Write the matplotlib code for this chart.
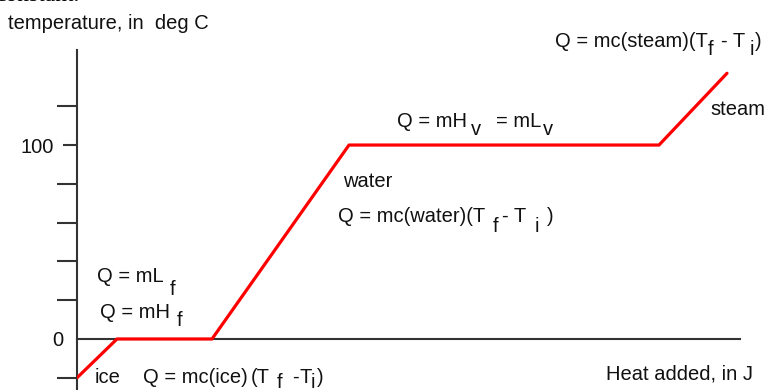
import matplotlib
matplotlib.use("Agg")
import matplotlib.pyplot as plt
import matplotlib.transforms as mtrans

W, H = 770, 390
FS = 14.5
TXT = "#111111"
AXIS = "#333333"
RED = "#ff0000"
plt.rc("font", family="Liberation Sans")

# heating curve of water: heat added (arbitrary units) vs temperature (deg C)
heat = [0, 40, 135, 272, 582, 650]
temp = [-20, 0, 0, 100, 100, 137]

minor_ticks = [-20, 20, 40, 60, 80, 120]
major_ticks = [0, 100]
major_labels = ["0", "100"]

# text pieces: (text, left x px, baseline y px) -- subscripts are separate pieces
labels = [
    ("temperature, in  deg C", 8, 29),
    ("Q = mL", 97, 282), ("f", 170, 295),
    ("Q = mH", 100, 318), ("f", 177, 326),
    ("ice", 95, 383),
    ("Q = mc(ice)", 143, 383), ("(T", 251, 383), ("f", 277, 388),
    ("-", 292, 383), ("T", 299, 383), ("i", 311, 388), (")", 317, 383),
    ("water", 343, 187),
    ("Q = mc(water)(T", 338, 222), ("f", 493, 232), ("- T", 502, 222),
    ("i", 535, 232), (")", 547, 222),
    ("Q = mH", 397, 127), ("v", 471, 135), ("= mL", 496, 127), ("v", 543, 135),
    ("Q = mc(steam)(T", 555, 47), ("f", 708, 55), ("- T", 721, 47),
    ("i", 750, 55), (")", 755, 47),
    ("steam", 710, 115),
    ("Heat added, in J", 606, 379),
]

fig = plt.figure(figsize=(W / 100, H / 100), dpi=100)
# axes box: left spine at x=77px, top at y=50px, right end of x axis at 740px
ax = fig.add_axes([77 / W, 0, (740 - 77) / W, (390 - 50) / H])
ax.set_xlim(0, 663)
ax.set_ylim(-26.3, 149)

ax.plot(heat, temp, color=RED, linewidth=2.3, solid_capstyle="round",
        solid_joinstyle="round", zorder=3)

for s in ["top", "right"]:
    ax.spines[s].set_visible(False)
ax.spines["bottom"].set_position(("data", 0))
for s in ["left", "bottom"]:
    ax.spines[s].set_color(AXIS)
    ax.spines[s].set_linewidth(1.5)

ax.set_xticks([])
ax.set_yticks(major_ticks)
ax.set_yticklabels(major_labels)
ax.set_yticks(minor_ticks, minor=True)
ax.tick_params(axis="y", which="major", length=10, width=1.5, color=AXIS,
               pad=7, labelsize=FS, labelcolor=TXT)
ax.tick_params(axis="y", which="minor", length=14.4, width=1.5, color=AXIS)

# no tick mark at zero, label sits closer to the axis
t0 = ax.yaxis.get_major_ticks()[0]
t0.tick1line.set_visible(False)
t0.label1.set_transform(t0.label1.get_transform() +
                        mtrans.ScaledTranslation(0.10, 0, fig.dpi_scale_trans))

for s, x, y in labels:
    fig.text(x / W, 1 - y / H, s, ha="left", va="baseline",
             fontsize=FS, color=TXT)

# cut-off sentence from the page above the figure
fig.text(-5 / W, 1 - 1 / H, "constant.", ha="left", va="baseline",
         fontsize=17, family="Liberation Serif", color="#000000")

fig.savefig("out.png", dpi=100)
